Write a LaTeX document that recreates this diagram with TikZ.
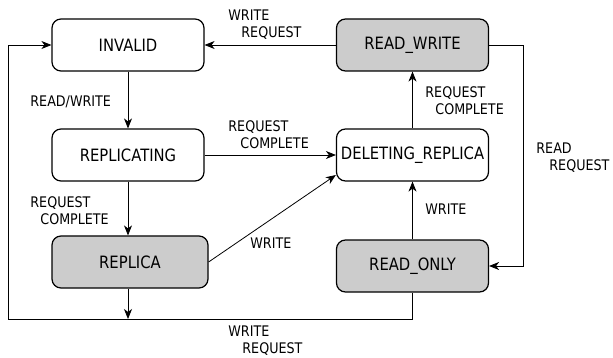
\documentclass[tikz,border=0pt]{standalone}
\usepackage{fontspec}
\setmainfont{DejaVu Sans}[FakeStretch=0.87]
\usetikzlibrary{arrows.meta}

\begin{document}
\begin{tikzpicture}[x=1pt,y=-1pt,line width=0.8pt,
		>={Stealth[length=10pt,width=8pt,inset=3pt]},
		state/.style={draw,line width=1.2pt,rounded corners=9pt,minimum width=152pt,minimum height=52pt,inner sep=0pt,font=\fontsize{17}{20}\selectfont},
		busy/.style={state,fill=black!20},
		lbl/.style={anchor=north west,inner sep=0pt,align=left,font=\fontsize{14.6}{17}\selectfont}]
			\useasboundingbox (0,0) rectangle (613,358);
			% states
			\node[state] (invalid) at (128,45) {INVALID};
			\node[state] (replicating) at (128,155) {REPLICATING};
			\node[busy,minimum width=156pt] (replica) at (130,262) {REPLICA};
			\node[busy] (readwrite) at (412.5,45) {READ\_WRITE};
			\node[state] (deleting) at (412.5,155) {DELETING\_REPLICA};
			\node[busy] (readonly) at (412.5,266) {READ\_ONLY};
			\coordinate (lowleft) at (8,319);
			\coordinate (farright) at (523,45);
			% transitions
			\draw[->] (invalid.south) -- (replicating.north);
			\draw[->] (replicating.south) -- (replicating.south |- replica.north);
			\draw[->] (replicating.south |- replica.south) -- (replicating.south |- lowleft);
			\draw[->] (readonly.south) |- (lowleft) |- (invalid.west);
			\draw[->] (readwrite.west) -- (invalid.east);
			\draw[->] (replicating.east) -- (deleting.west);
			\draw[->] (replica.east) -- ([yshift=-20pt]deleting.west);
			\draw[->] (deleting.north) -- (readwrite.south);
			\draw[->] (readonly.north) -- (deleting.south);
			\draw[->] (readwrite.east) -- (farright) |- (readonly.east);
			% labels
			\node[lbl] (wr1) at (228,9) {WRITE\\\hspace*{13pt}REQUEST};
			\node[lbl] (rw) at (30,95) {READ/WRITE};
			\node[lbl] (rc1) at (228,120) {REQUEST\\\hspace*{12pt}COMPLETE};
			\node[lbl] (rc2) at (30,196) {REQUEST\\\hspace*{10pt}COMPLETE};
			\node[lbl] (w1) at (250,237) {WRITE};
			\node[lbl] (wr2) at (228,325) {WRITE\\\hspace*{14pt}REQUEST};
			\node[lbl] (rc3) at (425,86) {REQUEST\\\hspace*{10pt}COMPLETE};
			\node[lbl] (rr) at (536,142) {READ\\\hspace*{13pt}REQUEST};
			\node[lbl] (w2) at (425,203) {WRITE};
		\end{tikzpicture}
\end{document}
